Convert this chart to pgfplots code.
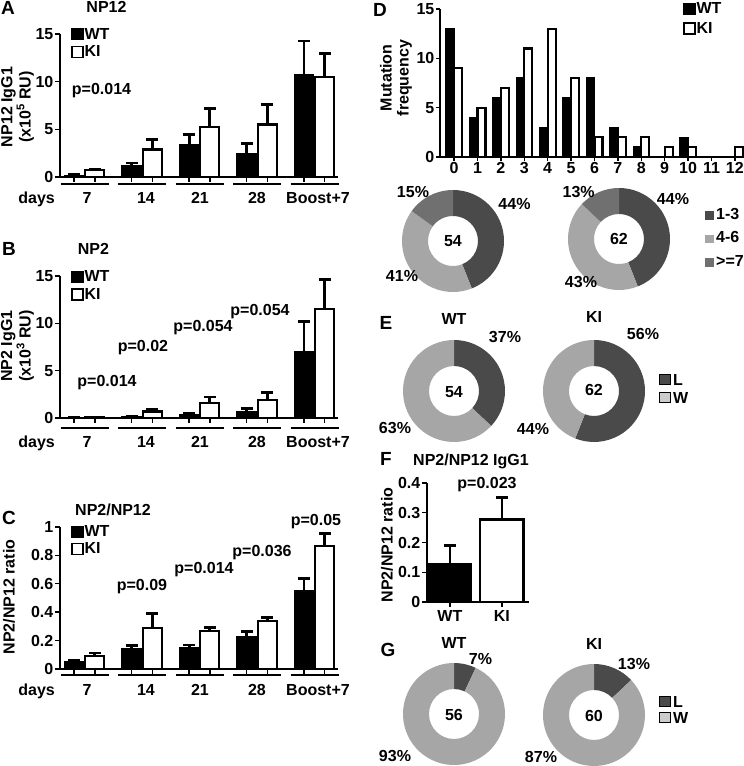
\documentclass[border=0pt]{standalone}
\usepackage{pgfplots}
\pgfplotsset{compat=1.18}
\usepackage{fontspec}
\setmainfont{Liberation Sans}
\newcommand\fs{\fontsize{16bp}{17bp}\selectfont\bfseries}
\newcommand\fl{\fontsize{19bp}{20bp}\selectfont\bfseries}
\definecolor{dk}{HTML}{4A4A4A}
\definecolor{lt}{HTML}{A6A6A6}
\definecolor{md}{HTML}{707070}
\definecolor{lw}{HTML}{CCCCCC}

\pgfplotsset{
  base/.style={scale only axis, clip=false,
    axis x line*=bottom, axis y line*=left,
    axis line style={line width=1.6bp,-},
    tick style={line width=1.4bp, black},
    major tick length=5bp, tick align=outside,
    tick label style={font=\fs},
    /pgf/number format/assume math mode=true, ymin=0,
    yticklabel style={inner sep=1.5bp},
    legend style={draw=none, fill=none, font=\fs, inner sep=0pt, row sep=3bp,
      nodes={inner sep=1bp}},
    legend cell align=left},
  errs/.style={error bars/y dir=plus, error bars/y explicit,
    error bars/error bar style={line width=2.8bp, black},
    error bars/error mark options={rotate=90, line width=2.6bp, mark size=6bp, black}},
  sq/.style={/pgfplots/legend image code/.code={\draw[##1, line width=1.2bp] (0bp,-5.5bp) rectangle (11bp,5.5bp);}},
  wt/.style={ybar, bar shift=0pt, bar width=#1, fill=black, draw=black, line width=1.5bp, sq, errs},
  ki/.style={ybar, bar shift=0pt, bar width=#1, fill=white, draw=black, line width=2.2bp, sq, errs},
}

\newcommand\grp[2]{%
  \foreach \c in {84.5,142,199.5,257,314.5}{
    \draw[line width=1.2bp] (\c-24,#1) -- (\c+24,#1);}
  \foreach \l/\t in {87/7,146/14,200/21,257/28,318/Boost+7}{
    \node[anchor=base, font=\fs, inner sep=0pt] at (\l,#2) {\t};}
  \node[anchor=base east, font=\fs, inner sep=0pt] at (55,#2) {days};}

\newcommand\seg[5]{%
  \fill[#5, shift={(#1,#2)}] ({90-3.6*#3}:51bp) arc[start angle={90-3.6*#3}, end angle={90-3.6*#4}, radius=51bp]
   -- ({90-3.6*#4}:25bp) arc[start angle={90-3.6*#4}, end angle={90-3.6*#3}, radius=25bp] -- cycle;}

\begin{document}
\begin{tikzpicture}
\useasboundingbox (0bp,0bp) rectangle (744bp,766bp);

% ---------------- Panel A
\begin{axis}[base, at={(60bp,589bp)}, anchor=south west, width=278bp, height=143bp,
  xmin=-0.426, xmax=4.41, ymax=15, ytick={0,5,10,15},
  xtick={-0.18,0.18,0.82,1.18,1.82,2.18,2.82,3.18,3.82,4.18}, xticklabels={},
  legend style={at={(0.04,1.05)}, anchor=north west}]
\addplot[wt=0.33] table[x=x,y=y,y error=e]{
x y e
-0.18 0.15 0.1
0.82 1.23 0.24
1.82 3.34 1.09
2.82 2.42 1.09
3.82 10.68 3.58
};
\addlegendentry{WT}
\addplot[ki=0.33] table[x=x,y=y,y error=e]{
x y e
0.18 0.7 0.15
1.18 2.88 1.05
2.18 5.23 1.94
3.18 5.51 2.11
4.18 10.5 2.43
};
\addlegendentry{KI}
\end{axis}

% ---------------- Panel B
\begin{axis}[base, at={(60bp,348bp)}, anchor=south west, width=278bp, height=142bp,
  xmin=-0.426, xmax=4.41, ymax=15, ytick={0,5,10,15},
  xtick={-0.18,0.18,0.82,1.18,1.82,2.18,2.82,3.18,3.82,4.18}, xticklabels={},
  legend style={at={(0.04,1.045)}, anchor=north west}]
\addplot[wt=0.33] table[x=x,y=y,y error=e]{
x y e
-0.18 0.03 0.02
0.82 0.15 0.06
1.82 0.35 0.15
2.82 0.7 0.3
3.82 7.02 3.2
};
\addlegendentry{WT}
\addplot[ki=0.33] table[x=x,y=y,y error=e]{
x y e
0.18 0.08 0.03
1.18 0.68 0.2
2.18 1.58 0.63
3.18 1.86 0.84
4.18 11.5 3.1
};
\addlegendentry{KI}
\end{axis}

% ---------------- Panel C
\begin{axis}[base, at={(60bp,97bp)}, anchor=south west, width=278bp, height=142bp,
  xmin=-0.426, xmax=4.41, ymax=1, ytick={0,0.2,0.4,0.6,0.8,1},
  xtick={-0.18,0.18,0.82,1.18,1.82,2.18,2.82,3.18,3.82,4.18}, xticklabels={},
  legend style={at={(0.04,1.02)}, anchor=north west}]
\addplot[wt=0.33] table[x=x,y=y,y error=e]{
x y e
-0.18 0.052 0.01
0.82 0.14 0.024
1.82 0.147 0.023
2.82 0.229 0.035
3.82 0.551 0.087
};
\addlegendentry{WT}
\addplot[ki=0.33] table[x=x,y=y,y error=e]{
x y e
0.18 0.089 0.023
1.18 0.287 0.103
2.18 0.27 0.024
3.18 0.339 0.025
4.18 0.867 0.086
};
\addlegendentry{KI}
\end{axis}

% ---------------- Panel D
\begin{axis}[base, at={(440bp,609bp)}, anchor=south west, width=304bp, height=148bp,
  xmin=-0.6, xmax=12.39, ymax=15, ytick={0,5,10,15},
  xtick={0,1,...,12}, major tick length=4bp,
  xticklabel style={inner sep=1bp},
  legend style={at={(0.80,1.05)}, anchor=north west, row sep=5bp}]
\addplot[wt=0.34] table[x=x,y=y]{
x y
-0.17 13
0.83 4
1.83 6
2.83 8
3.83 3
4.83 6
5.83 8
6.83 3
7.83 1
8.83 0
9.83 2
10.83 0
11.83 0
};
\addlegendentry{WT}
\addplot[ki=0.34] table[x=x,y=y]{
x y
0.17 9
1.17 5
2.17 7
3.17 11
4.17 13
5.17 8
6.17 2
7.17 2
8.17 2
9.17 1
10.17 1
11.17 0
12.17 1
};
\addlegendentry{KI}
\end{axis}

% ---------------- Panel F
\begin{axis}[base, at={(427bp,164bp)}, anchor=south west, width=102bp, height=119bp,
  xmin=-0.44, xmax=1.52, ymax=0.4, ytick={0,0.1,0.2,0.3,0.4},
  xtick={0,1}, xticklabels={WT,KI}]
\addplot[wt=0.83] table[x=x,y=y,y error=e]{
x y e
0 0.129 0.06
};
\addplot[ki=0.83] table[x=x,y=y,y error=e]{
x y e
1 0.277 0.075
};
\end{axis}

\begin{scope}[x=1bp, y=1bp]
\grp{582}{562}
\grp{338}{318.5}
\grp{91}{70.8}
% ---------------- Donuts D
\seg{453}{525}{0}{44}{dk}\seg{453}{525}{44}{85}{lt}\seg{453}{525}{85}{100}{md}
\seg{619}{527}{0}{44}{dk}\seg{619}{527}{44}{87}{lt}\seg{619}{527}{87}{100}{md}
% Donuts E
\seg{454}{375}{0}{37}{dk}\seg{454}{375}{37}{100}{lt}
\seg{594}{375}{0}{56}{dk}\seg{594}{375}{56}{100}{lt}
% Donuts G
\seg{454}{52}{0}{7}{dk}\seg{454}{52}{7}{100}{lt}
\seg{594}{51}{0}{13}{dk}\seg{594}{51}{13}{100}{lt}

\begin{scope}[every node/.style={font=\fs, inner sep=0pt, anchor=base}]
% letters
\node[font=\fl] at (8,751) {A};
\node[font=\fl] at (9,510) {B};
\node[font=\fl] at (9,242) {C};
\node[font=\fl] at (380,749) {D};
\node[font=\fl] at (386,436) {E};
\node[font=\fl] at (386,301) {F};
\node[font=\fl] at (388,110) {G};
% titles
\node at (106.5,753) {NP12};
\node at (93.5,511) {NP2};
\node at (113,251) {NP2/NP12};
\node at (471,301) {NP2/NP12 IgG1};
% p values
\node at (101.5,671) {p=0.014};
\node at (107,380) {p=0.014};
\node at (143,414.3) {p=0.02};
\node at (203,434.3) {p=0.054};
\node at (260,450) {p=0.054};
\node at (142,176) {p=0.09};
\node at (204,192.7) {p=0.014};
\node at (262,209.3) {p=0.036};
\node at (316,241) {p=0.05};
\node at (487,277.7) {p=0.023};
% y labels
\node[rotate=90, align=center, anchor=center] at (17.5,659) {NP12 IgG1\\(x10\textsuperscript{5} RU)};
\node[rotate=90, align=center, anchor=center] at (17.5,420) {NP2 IgG1\\(x10\textsuperscript{3} RU)};
\node[rotate=90, anchor=center] at (9,169) {NP2/NP12 ratio};
\node[rotate=90, align=center, anchor=center] at (396,688) {Mutation\\frequency};
\node[rotate=90, anchor=center] at (387,221) {NP2/NP12 ratio};
% donut labels D
\node at (413,568) {15\%};
\node at (514.5,556) {44\%};
\node at (402,484.3) {41\%};
\node at (453,519) {54};
\node at (578.7,568) {13\%};
\node at (673,561) {44\%};
\node at (581,478) {43\%};
\node at (619,521) {62};
% E
\node at (454,441) {WT};
\node at (594,443) {KI};
\node at (505,423) {37\%};
\node at (395,333) {63\%};
\node at (643,426) {56\%};
\node at (533,332) {44\%};
\node at (454,368.5) {54};
\node at (594,370.5) {62};
% G
\node at (454,118) {WT};
\node at (594,117) {KI};
\node at (480.5,102) {7\%};
\node at (634,97) {13\%};
\node at (395,5) {93\%};
\node at (541,4) {87\%};
\node at (454,45.5) {56};
\node at (594,44.5) {60};
% legends for donuts
\fill[dk] (705,546) rectangle (714,555);
\node[anchor=base west] at (716,546) {1-3};
\fill[lt] (705,523) rectangle (714,531);
\node[anchor=base west] at (716,523) {4-6};
\fill[md] (705,499) rectangle (714,508);
\node[anchor=base west] at (716,499) {>=7};
\filldraw[fill=dk, draw=black, line width=1bp] (659,381) rectangle (670,391);
\node[anchor=base west] at (673,381) {L};
\filldraw[fill=lw, draw=black, line width=1bp] (659,363) rectangle (670,373);
\node[anchor=base west] at (673,363) {W};
\filldraw[fill=dk, draw=black, line width=1bp] (659,59) rectangle (670,69);
\node[anchor=base west] at (673,59) {L};
\filldraw[fill=lw, draw=black, line width=1bp] (659,43) rectangle (670,53);
\node[anchor=base west] at (673,43) {W};
\end{scope}
\end{scope}
\end{tikzpicture}
\end{document}
